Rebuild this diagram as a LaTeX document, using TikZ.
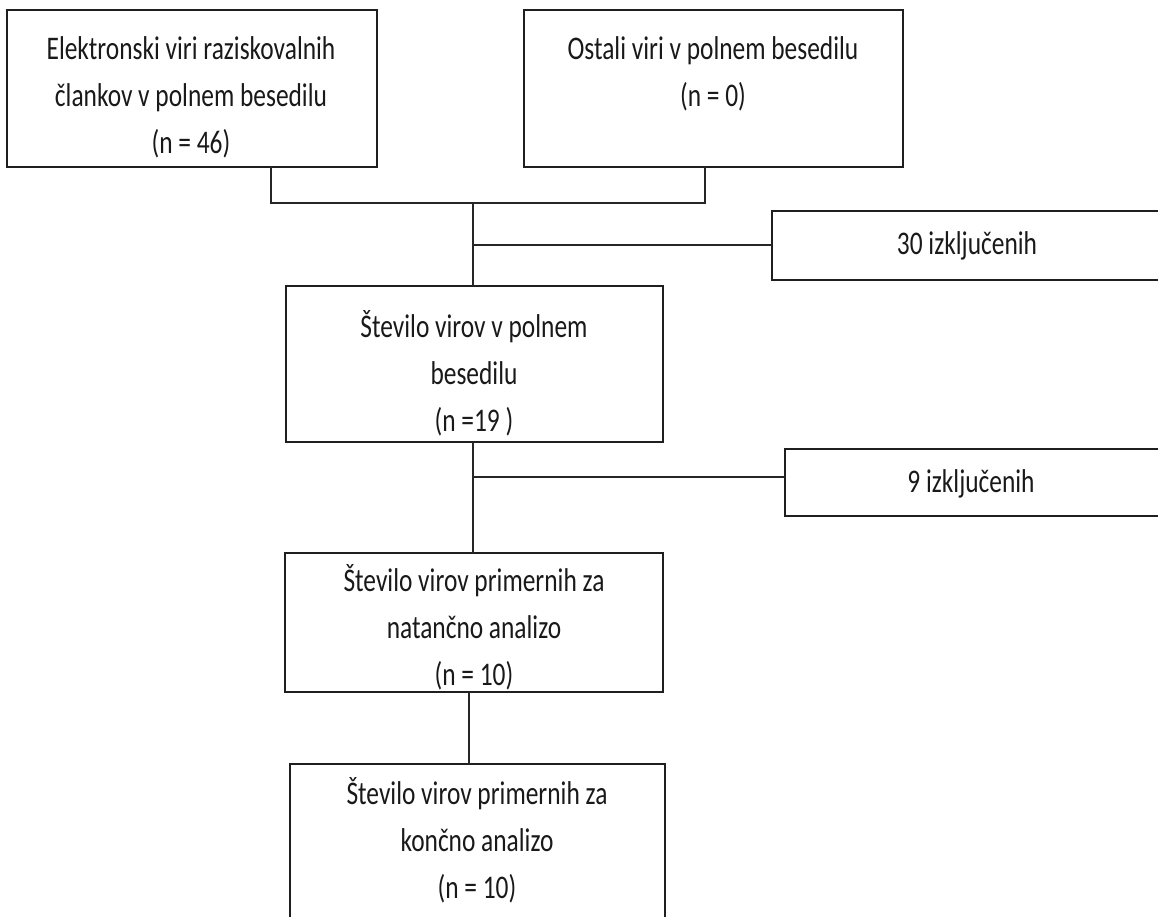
\documentclass[tikz,border=0pt]{standalone}
\usepackage{fontspec}
\setmainfont{Carlito}[FakeStretch=0.77]
\begin{document}
\begin{tikzpicture}[x=1pt,y=-1pt,
  box/.style={draw=black!88, line width=1.6pt, fill=none},
  txt/.style={align=center, text=black!90, inner sep=0pt,
    font=\fontsize{33}{47}\selectfont},
  link/.style={draw=black!85, line width=1.6pt}]
\useasboundingbox (0,0) rectangle (1158,917);
\clip (0,0) rectangle (1158,917);

% source boxes
\draw[box] (7,10) rectangle (377,167);
\node[txt] (A) at (191,97) {Elektronski viri raziskovalnih\\člankov v polnem besedilu\\(n = 46)};
\draw[box] (524,10) rectangle (903,167);
\node[txt] (B) at (713,74) {Ostali viri v polnem besedilu\\(n = 0)};

% junction and branch points
\coordinate (aS) at (271,167);
\coordinate (bS) at (705,167);
\coordinate (j1) at (473,203);
\coordinate (k1) at (473,245);
\coordinate (k2) at (473,477);

% sifting boxes
\draw[box] (286,286) rectangle (663,442);
\node[txt] (C) at (474,373) {Število virov v polnem\\besedilu\\(n =19 )};
\draw[box] (772,211) rectangle (1170,280);
\node[txt] (D) at (967,246) {30 izključenih};
\draw[box] (285,553) rectangle (663,692);
\node[txt] (E) at (474,627) {Število virov primernih za\\natančno analizo\\(n = 10)};
\draw[box] (785,449) rectangle (1170,516);
\node[txt] (F) at (971,484) {9 izključenih};
\draw[box] (290,764) rectangle (665,960);
\node[txt] (G) at (477,840) {Število virov primernih za\\končno analizo\\(n = 10)};

% connectors
\draw[link] (aS) |- (j1) -| (bS);
\draw[link] (j1) -- (473,286);
\draw[link] (k1) -- (772,245);
\draw[link] (473,442) -- (473,553);
\draw[link] (k2) -- (785,477);
\draw[link] (469,692) -- (469,764);
\end{tikzpicture}
\end{document}
